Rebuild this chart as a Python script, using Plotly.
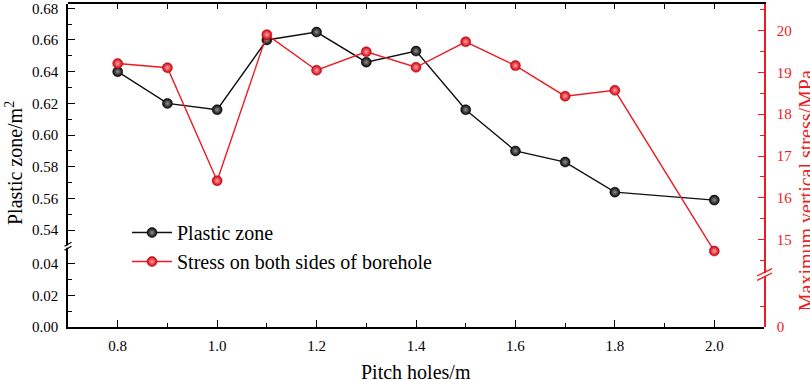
import plotly.graph_objects as go

# ---------------- data ----------------
pitch = [0.8, 0.9, 1.0, 1.1, 1.2, 1.3, 1.4, 1.5, 1.6, 1.7, 1.8, 2.0]
plastic_zone = [0.640, 0.620, 0.616, 0.660, 0.665, 0.646, 0.653, 0.616, 0.590, 0.583, 0.564, 0.559]
stress = [19.21, 19.11, 16.41, 19.90, 19.05, 19.49, 19.12, 19.73, 19.16, 18.43, 18.57, 14.73]

x_ticks = [0.8, 1.0, 1.2, 1.4, 1.6, 1.8, 2.0]
x_tick_labels = ["0.8", "1.0", "1.2", "1.4", "1.6", "1.8", "2.0"]
x_minor = [0.9, 1.1, 1.3, 1.5, 1.7, 1.9]
x_top_ticks = [0.8, 0.9, 1.0, 1.1, 1.2, 1.3, 1.4, 1.5, 1.6, 1.7, 1.8, 1.9, 2.0]

left_top_ticks = [0.54, 0.56, 0.58, 0.60, 0.62, 0.64, 0.66, 0.68]
left_top_labels = ["0.54", "0.56", "0.58", "0.60", "0.62", "0.64", "0.66", "0.68"]
left_top_minor = [0.55, 0.57, 0.59, 0.61, 0.63, 0.65, 0.67]
left_bot_ticks = [0.00, 0.02, 0.04]
left_bot_labels = ["0.00", "0.02", "0.04"]
left_bot_minor = [0.01, 0.03]

right_top_ticks = [15, 16, 17, 18, 19, 20]
right_top_labels = ["15", "16", "17", "18", "19", "20"]
right_top_minor = [14.5, 15.5, 16.5, 17.5, 18.5, 19.5, 20.5]
right_bot_ticks = [0]
right_bot_labels = ["0"]
right_bot_minor = [0.5]

# ---------------- geometry ----------------
W, H = 810, 380
L, R, T, B = 68, 46, 1, 53
PW, PH = W - L - R, H - T - B
BOT = H - B


def fx(px):
    return (px - L) / PW


def fy(py):
    return (BOT - py) / PH


RED = "#ec1c24"
FONT = "Liberation Serif"

left_break = 245.8
right_break = 274.0
dL = fy(left_break)
dR = fy(right_break)

fig = go.Figure()
# empty traces so that the axis-only subplots are created
fig.add_trace(go.Scatter(x=[], y=[], xaxis="x", yaxis="y", showlegend=False, hoverinfo="skip"))
fig.add_trace(go.Scatter(x=[], y=[], xaxis="x", yaxis="y4", showlegend=False, hoverinfo="skip"))
fig.add_trace(go.Scatter(x=[], y=[], xaxis="x2", yaxis="y3", showlegend=False, hoverinfo="skip"))

fig.add_trace(go.Scatter(
    x=pitch, y=plastic_zone, xaxis="x", yaxis="y2", name="Plastic zone",
    mode="lines+markers", line=dict(color="#111111", width=1.4),
    marker=dict(size=10, color="#050505", gradient=dict(type="radial", color="#909090"),
                line=dict(width=0.5, color="#000000")),
))
fig.add_trace(go.Scatter(
    x=pitch, y=stress, xaxis="x", yaxis="y3", name="Stress on both sides of borehole",
    mode="lines+markers", line=dict(color=RED, width=1.4),
    marker=dict(size=10, color="#d0000c", gradient=dict(type="radial", color="#ffa0a6"),
                line=dict(width=0.5, color="#b00000")),
))

tickfont_k = dict(family=FONT, size=15, color="#000000")
tickfont_r = dict(family=FONT, size=15, color=RED)

common_y = dict(showgrid=False, zeroline=False, showline=True, tickmode="array",
                ticks="inside", fixedrange=True, ticklabeloverflow="allow")

fig.update_layout(
    width=W, height=H, margin=dict(l=L, r=R, t=T, b=B, pad=0),
    paper_bgcolor="white", plot_bgcolor="rgba(0,0,0,0)",
    font=dict(family=FONT, size=15, color="#000000"),
    xaxis=dict(domain=[0, 1], range=[0.7, 2.1], anchor="y", showgrid=False, zeroline=False,
               showline=True, linecolor="#000000", linewidth=1.5, tickmode="array",
               tickvals=x_ticks, ticktext=x_tick_labels, ticks="inside", ticklen=7,
               tickwidth=1.3, tickcolor="#000000", tickfont=tickfont_k, ticklabelstandoff=4,
               fixedrange=True,
               minor=dict(tickmode="array", tickvals=x_minor, ticks="inside", ticklen=4,
                          tickwidth=1.3, tickcolor="#000000")),
    xaxis2=dict(domain=[0, 1], range=[0.7, 2.1], anchor="y3", side="top", showgrid=False,
                zeroline=False, showline=True, linecolor="#000000", linewidth=1.5,
                tickmode="array", tickvals=x_top_ticks, ticks="inside", ticklen=5,
                tickwidth=1.3, tickcolor="#000000", showticklabels=False, fixedrange=True),
    yaxis=dict(domain=[0, dL], range=[0, (BOT - left_break) / 1590.0], anchor="x",
               linecolor="#000000", linewidth=1.5, tickvals=left_bot_ticks,
               ticktext=left_bot_labels, ticklen=7, tickwidth=1.3, tickcolor="#000000",
               tickfont=tickfont_k, ticklabelstandoff=5,
               minor=dict(tickmode="array", tickvals=left_bot_minor, ticks="inside",
                          ticklen=4, tickwidth=1.3, tickcolor="#000000"), **common_y),
    yaxis2=dict(domain=[dL, 1], range=[0.5297, 0.68269], anchor="x",
                linecolor="#000000", linewidth=1.5, tickvals=left_top_ticks,
                ticktext=left_top_labels, ticklen=7, tickwidth=1.3, tickcolor="#000000",
                tickfont=tickfont_k, ticklabelstandoff=5,
                minor=dict(tickmode="array", tickvals=left_top_minor, ticks="inside",
                           ticklen=4, tickwidth=1.3, tickcolor="#000000"), **common_y),
    yaxis3=dict(domain=[dR, 1], range=[14.170, 20.632], anchor="x", side="right",
                linecolor=RED, linewidth=1.5, tickvals=right_top_ticks,
                ticktext=right_top_labels, ticklen=6, tickwidth=1.3, tickcolor=RED,
                tickfont=tickfont_r, ticklabelstandoff=8,
                minor=dict(tickmode="array", tickvals=right_top_minor, ticks="inside",
                           ticklen=4, tickwidth=1.3, tickcolor=RED), **common_y),
    yaxis4=dict(domain=[0, dR], range=[0, (BOT - right_break) / 42.25], anchor="x", side="right",
                linecolor=RED, linewidth=1.5, tickvals=right_bot_ticks,
                ticktext=right_bot_labels, ticklen=6, tickwidth=1.3, tickcolor=RED,
                tickfont=tickfont_r, ticklabelstandoff=8,
                minor=dict(tickmode="array", tickvals=right_bot_minor, ticks="inside",
                           ticklen=4, tickwidth=1.3, tickcolor=RED), **common_y),
    legend=dict(x=fx(127), y=fy(212), xanchor="left", yanchor="top",
                bgcolor="rgba(0,0,0,0)", borderwidth=0,
                font=dict(family=FONT, size=20, color="#000000"),
                itemwidth=40, tracegroupgap=0),
    showlegend=True,
)

annotations = [
    dict(text="Pitch holes/m", x=0.5, y=fy(372), xref="paper", yref="paper",
         xanchor="center", yanchor="middle", showarrow=False,
         font=dict(family=FONT, size=20, color="#000000")),
    dict(text="Plastic zone/m<sup>2</sup>", x=fx(13.5), y=fy(162), xref="paper", yref="paper",
         xanchor="center", yanchor="middle", textangle=-90, showarrow=False,
         font=dict(family=FONT, size=20, color="#000000")),
    dict(text="Maximum vertical stress/MPa", x=fx(806), y=fy(190), xref="paper", yref="paper",
         xanchor="center", yanchor="middle", textangle=-90, showarrow=False,
         font=dict(family=FONT, size=20, color=RED)),
]
fig.update_layout(annotations=annotations)


def seg(x0, y0, x1, y1, color, width=1.3):
    return dict(type="line", xref="paper", yref="paper", x0=fx(x0), y0=fy(y0),
                x1=fx(x1), y1=fy(y1), line=dict(color=color, width=width), layer="above")


def gap(x0, y0, x1, y1):
    return dict(type="rect", xref="paper", yref="paper", x0=fx(x0), y0=fy(y0),
                x1=fx(x1), y1=fy(y1), fillcolor="white", line=dict(width=0), layer="above")


shapes = [
    gap(65.5, left_break - 1.2, 70.5, left_break + 1.2),
    seg(64.5, left_break - 0.3, 71.5, left_break - 4.3, "#000000"),
    seg(64.5, left_break + 3.7, 71.5, left_break - 0.3, "#000000"),
    gap(761.5, right_break - 1.4, 766.5, right_break + 1.4),
    seg(757, right_break + 1.5, 772, right_break - 6.0, RED),
    seg(757, right_break + 6.0, 772, right_break - 1.5, RED),
]
fig.update_layout(shapes=shapes)

fig.write_html("out.html", config={"displayModeBar": False},
               post_script="document.body.style.margin='0';")
